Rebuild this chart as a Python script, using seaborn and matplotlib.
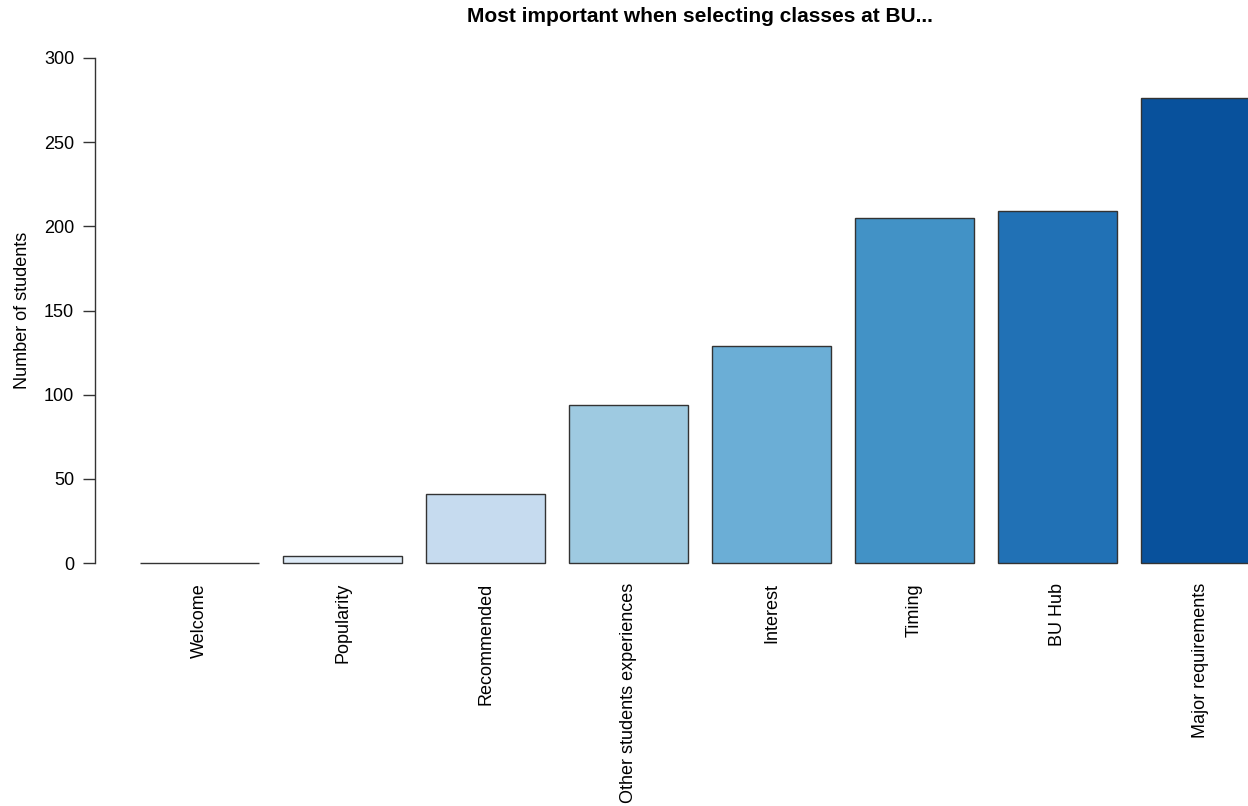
import pandas as pd
import matplotlib
matplotlib.use("Agg")
import matplotlib.pyplot as plt
import seaborn as sns

# data
categories = ["Welcome", "Popularity", "Recommended", "Other students experiences",
              "Interest", "Timing", "BU Hub", "Major requirements"]
counts = [0, 4, 41, 94, 129, 205, 209, 276]
bar_colors = ["#F7FBFF", "#DEEBF7", "#C6DBEF", "#9ECAE1",
              "#6BAED6", "#4292C6", "#2171B5", "#08519C"]
y_ticks = [0, 50, 100, 150, 200, 250, 300]

df = pd.DataFrame({"reason": categories, "students": counts})

sns.set_style("white")
plt.rcParams["font.family"] = ["Liberation Sans", "DejaVu Sans"]
plt.rcParams["text.color"] = "black"
plt.rcParams["axes.labelcolor"] = "black"
plt.rcParams["xtick.color"] = "black"
plt.rcParams["ytick.color"] = "black"

fig = plt.figure(figsize=(12.48, 8.06), dpi=100)
ax = fig.add_axes([95 / 1248, 1 - 563 / 806, 1 - 95 / 1248, (563 - 58) / 806])

sns.barplot(data=df, x="reason", y="students", hue="reason", palette=bar_colors,
            legend=False, width=1 / 1.2, edgecolor="#333333", linewidth=1,
            saturation=1, ax=ax)
for p in ax.patches:
    p.set_clip_on(False)

ax.set_xlim(-0.731, (1248 - 199.5) / 143)
ax.set_ylim(0, 300)
ax.set_yticks(y_ticks)
ax.tick_params(axis="y", left=True, length=9, width=1, color="#333333",
               labelsize=13, pad=6)
ax.tick_params(axis="x", bottom=False, labelsize=13, pad=11)
plt.setp(ax.get_xticklabels(), rotation=90, va="top")

for side in ["top", "right", "bottom"]:
    ax.spines[side].set_visible(False)
ax.spines["left"].set_color("#333333")
ax.spines["left"].set_linewidth(1)
ax.spines["left"].set_clip_on(False)

ax.set_xlabel("")
ax.set_ylabel("Number of students", fontsize=13, labelpad=9)
fig.text(700 / 1248, 1 - 16 / 806, "Most important when selecting classes at BU...",
         ha="center", va="center", fontsize=15, fontweight="bold")

fig.savefig("out.png", dpi=100)
